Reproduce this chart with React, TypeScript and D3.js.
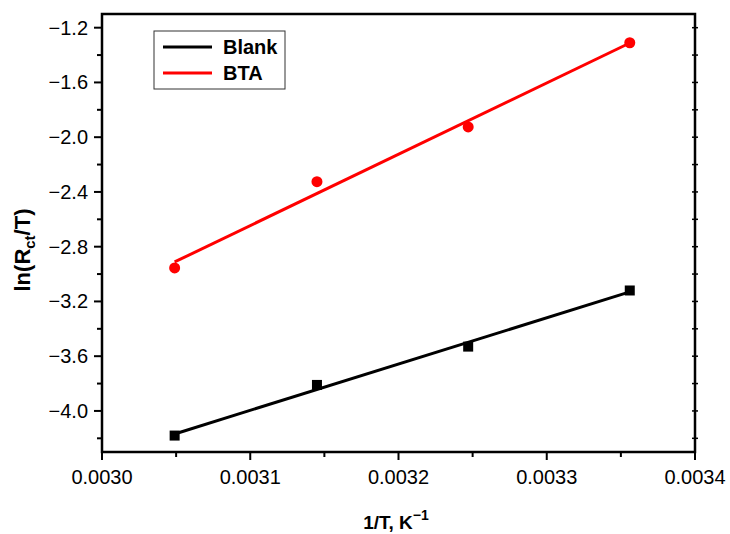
import { useEffect, useRef } from "react";
import * as d3 from "d3";

// 1/T values (K^-1)
const invT = [0.003049, 0.003145, 0.003247, 0.003356];
const blank = [-4.18, -3.81, -3.53, -3.12];
const bta = [-2.955, -2.325, -1.925, -1.31];
const xTicks = [0.003, 0.0031, 0.0032, 0.0033, 0.0034];
const yTicks = [-4.0, -3.6, -3.2, -2.8, -2.4, -2.0, -1.6, -1.2];

function fit(xs: number[], ys: number[]) {
  const mx = d3.mean(xs)!, my = d3.mean(ys)!;
  let num = 0, den = 0;
  xs.forEach((x, i) => { num += (x - mx) * (ys[i] - my); den += (x - mx) ** 2; });
  const b = num / den;
  return (x: number) => my + b * (x - mx);
}

export default function App() {
  const ref = useRef<SVGSVGElement>(null);

  useEffect(() => {
    const width = 730, height = 534;
    const m = { left: 102, right: 695, top: 14, bottom: 452 };
    const font = "'Liberation Sans', Arial, sans-serif";

    const svg = d3.select(ref.current);
    svg.selectAll("*").remove();

    const x = d3.scaleLinear().domain([0.003, 0.0034]).range([m.left, m.right]);
    const y = d3.scaleLinear().domain([-4.3, -1.1]).range([m.bottom, m.top]);

    // minor ticks
    const xMinor = d3.range(0, 9).map(i => 0.003 + i * 0.00005).filter((_, i) => i % 2 == 1);
    const yMinor = d3.range(0, 8).map(i => -4.2 + i * 0.4);

    const g = svg.append("g");

    // frame
    g.append("rect")
      .attr("x", m.left).attr("y", m.top)
      .attr("width", m.right - m.left).attr("height", m.bottom - m.top)
      .attr("fill", "none").attr("stroke", "#000").attr("stroke-width", 2.5);

    // bottom ticks
    xTicks.forEach(t => {
      g.append("line").attr("x1", x(t)).attr("x2", x(t))
        .attr("y1", m.bottom).attr("y2", m.bottom + 8)
        .attr("stroke", "#000").attr("stroke-width", 2);
      g.append("text").attr("x", x(t)).attr("y", m.bottom + 32)
        .attr("text-anchor", "middle").attr("font-family", font).attr("font-size", 20)
        .text(d3.format(".4f")(t));
    });
    xMinor.forEach(t => {
      g.append("line").attr("x1", x(t)).attr("x2", x(t))
        .attr("y1", m.bottom).attr("y2", m.bottom + 5)
        .attr("stroke", "#000").attr("stroke-width", 2);
    });

    // left ticks + right ticks
    yTicks.forEach(t => {
      g.append("line").attr("x1", m.left - 8).attr("x2", m.left)
        .attr("y1", y(t)).attr("y2", y(t))
        .attr("stroke", "#000").attr("stroke-width", 2);
      g.append("line").attr("x1", m.right - 3).attr("x2", m.right + 3)
        .attr("y1", y(t)).attr("y2", y(t))
        .attr("stroke", "#000").attr("stroke-width", 1.5);
      g.append("text").attr("x", m.left - 14).attr("y", y(t) + 7)
        .attr("text-anchor", "end").attr("font-family", font).attr("font-size", 20)
        .text(d3.format(".1f")(t));
    });
    yMinor.forEach(t => {
      g.append("line").attr("x1", m.left - 5).attr("x2", m.left)
        .attr("y1", y(t)).attr("y2", y(t))
        .attr("stroke", "#000").attr("stroke-width", 2);
      g.append("line").attr("x1", m.right - 3).attr("x2", m.right + 3)
        .attr("y1", y(t)).attr("y2", y(t))
        .attr("stroke", "#000").attr("stroke-width", 1.5);
    });

    // series
    const series = [
      { name: "Blank", vals: blank, color: "#000", shape: "square" },
      { name: "BTA", vals: bta, color: "#f00", shape: "circle" },
    ];

    series.forEach(s => {
      const f = fit(invT, s.vals);
      const x0 = invT[0], x1 = invT[invT.length - 1];
      g.append("line")
        .attr("x1", x(x0)).attr("y1", y(f(x0)))
        .attr("x2", x(x1)).attr("y2", y(f(x1)))
        .attr("stroke", s.color).attr("stroke-width", 3);

      invT.forEach((t, i) => {
        if (s.shape == "square") {
          g.append("rect")
            .attr("x", x(t) - 5).attr("y", y(s.vals[i]) - 5)
            .attr("width", 10).attr("height", 10)
            .attr("fill", s.color);
        } else {
          g.append("circle")
            .attr("cx", x(t)).attr("cy", y(s.vals[i])).attr("r", 5.5)
            .attr("fill", s.color);
        }
      });
    });

    // legend
    const lg = g.append("g");
    lg.append("rect").attr("x", 154).attr("y", 31).attr("width", 131).attr("height", 58)
      .attr("fill", "#fff").attr("stroke", "#333").attr("stroke-width", 1);
    series.forEach((s, i) => {
      const ly = 47 + i * 26;
      lg.append("line").attr("x1", 163).attr("x2", 212).attr("y1", ly).attr("y2", ly)
        .attr("stroke", s.color).attr("stroke-width", 3);
      lg.append("text").attr("x", 223).attr("y", ly + 7)
        .attr("font-family", font).attr("font-size", 20).attr("font-weight", "bold")
        .text(s.name);
    });

    // axis labels
    const xl = g.append("text").attr("x", 396).attr("y", 529)
      .attr("text-anchor", "middle").attr("font-family", font).attr("font-size", 19)
      .attr("font-weight", "bold");
    xl.append("tspan").text("1/T, K");
    xl.append("tspan").attr("dy", -9).attr("font-size", 14).text("\u22121");

    const yl = g.append("text")
      .attr("transform", "translate(30,250) rotate(-90)")
      .attr("text-anchor", "middle").attr("font-family", font).attr("font-size", 22)
      .attr("font-weight", "bold");
    yl.append("tspan").text("ln(R");
    yl.append("tspan").attr("dy", 5).attr("font-size", 15).text("ct");
    yl.append("tspan").attr("dy", -5).text("/T)");

    svg.attr("width", width).attr("height", height);
  }, []);

  return (
    <div style={{ position: "absolute", left: 0, top: 0 }}>
      <svg ref={ref} width={730} height={534} style={{ display: "block", background: "#fff" }}></svg>
    </div>
  );
}
